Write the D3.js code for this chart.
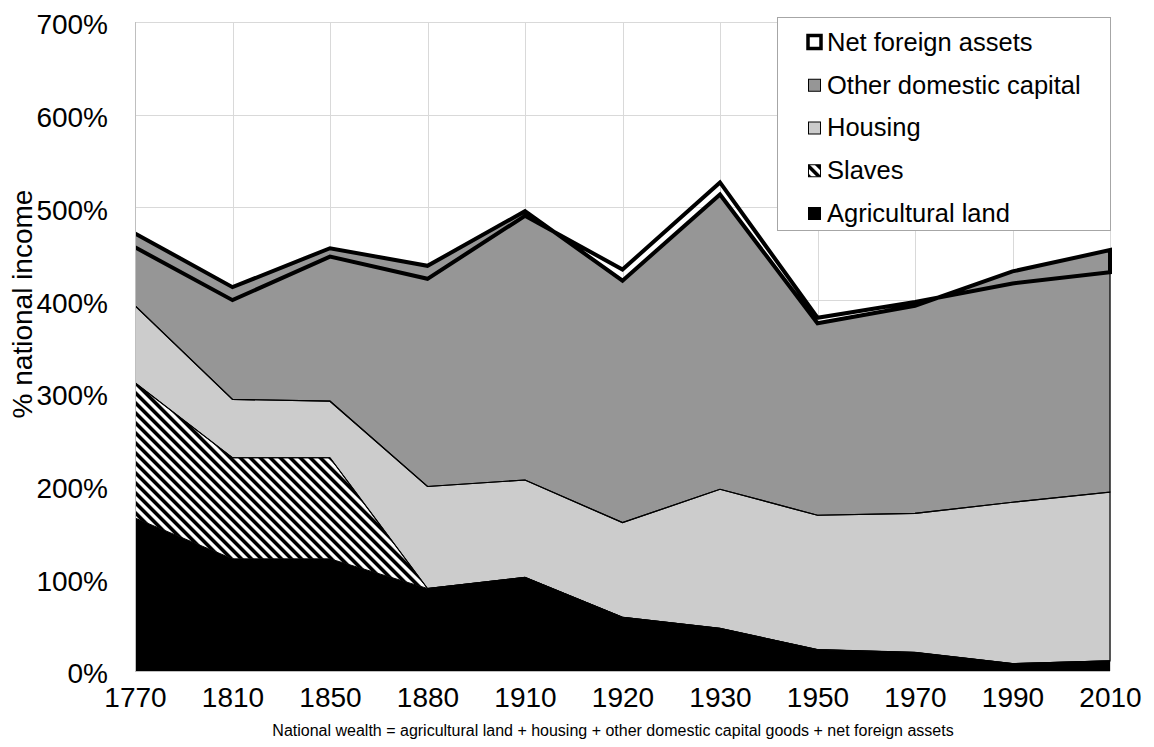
<!DOCTYPE html>
<html>
<head>
<meta charset="utf-8">
<script src="https://cdn.jsdelivr.net/npm/d3@7"></script>
<style>
  body { margin: 0; background: #fff; }
  svg { display: block; font-family: "Liberation Sans", Arial, sans-serif; }
</style>
</head>
<body>
<div id="chart"></div>
<script>
// Capital in the United States, 1770-2010 (% of national income)
const years = ['1770', '1810', '1850', '1880', '1910', '1920', '1930', '1950', '1970', '1990', '2010'];
const agriculturalLand = [165, 121, 121, 89, 101, 58, 46, 23, 20, 8, 11];
const slaves = [146, 109, 109, 0, 0, 0, 0, 0, 0, 0, 0];
const housing = [83, 63, 61, 110, 105, 102, 150, 145, 150, 174, 182];
const otherDomestic = [78, 121, 165, 238, 290, 261, 318, 207, 224, 249, 261];
const netForeign = [-15, -14, -9, -14, -5, 12, 13, 6, 4, -13, -24];

const yTicks = [0, 100, 200, 300, 400, 500, 600, 700];
const legendLabels = ['Net foreign assets', 'Other domestic capital', 'Housing', 'Slaves', 'Agricultural land'];
const caption = 'National wealth = agricultural land + housing + other domestic capital goods + net foreign assets';

const width = 1154, height = 747;
const plot = { left: 135, right: 1110, top: 22, bottom: 671 };

const svg = d3.select('#chart').append('svg')
    .attr('width', width)
    .attr('height', height);

// hatch for slaves
const defs = svg.append('defs');
const hatch = defs.append('pattern')
    .attr('id', 'hatch')
    .attr('patternUnits', 'userSpaceOnUse')
    .attr('width', 7.07)
    .attr('height', 7.07)
    .attr('patternTransform', 'rotate(-45)');
hatch.append('rect').attr('width', 7.07).attr('height', 7.07).attr('fill', '#fff');
hatch.append('rect').attr('width', 3.6).attr('height', 7.07).attr('fill', '#000');

defs.append('clipPath').attr('id', 'plotClip')
    .append('rect')
    .attr('x', plot.left).attr('y', plot.top - 10)
    .attr('width', plot.right - plot.left + 4)
    .attr('height', plot.bottom - plot.top + 10);

const x = d3.scalePoint().domain(years).range([plot.left, plot.right]);
const y = d3.scaleLinear().domain([0, 700]).range([plot.bottom, plot.top]);

// gridlines
const grid = svg.append('g').attr('stroke', '#d9d9d9').attr('stroke-width', 1);
grid.selectAll('line.h').data(yTicks.slice(1)).enter().append('line')
    .attr('x1', plot.left).attr('x2', plot.right)
    .attr('y1', d => Math.round(y(d)) + 0.5).attr('y2', d => Math.round(y(d)) + 0.5);
grid.selectAll('line.v').data(years.slice(1)).enter().append('line')
    .attr('x1', d => Math.round(x(d)) + 0.5).attr('x2', d => Math.round(x(d)) + 0.5)
    .attr('y1', plot.top).attr('y2', plot.bottom);

// stacked data
const table = years.map((yr, i) => ({
    year: yr,
    agri: agriculturalLand[i],
    slaves: slaves[i],
    housing: housing[i],
    domestic: otherDomestic[i],
    foreign: netForeign[i]
}));
const keys = ['agri', 'slaves', 'housing', 'domestic', 'foreign'];
const series = d3.stack().keys(keys).offset(d3.stackOffsetNone)(table);

const area = d3.area()
    .x(d => x(d.data.year))
    .y0(d => y(d[0]))
    .y1(d => y(d[1]));

// outline without the left edge: top left->right, right edge, bottom right->left
function outline(s) {
    const pts = s.map(d => [x(d.data.year), y(d[1])])
        .concat(s.slice().reverse().map(d => [x(d.data.year), y(d[0])]));
    return d3.line()(pts);
}

const styles = {
    agri: { fill: '#000', stroke: '#000', sw: 1 },
    slaves: { fill: 'url(#hatch)', stroke: '#000', sw: 1 },
    housing: { fill: '#cccccc', stroke: '#000', sw: 1.2 },
    domestic: { fill: '#969696', stroke: '#000', sw: 1.2 },
    foreign: { fill: 'none', stroke: '#000', sw: 4 }
};

const areas = svg.append('g').attr('clip-path', 'url(#plotClip)');
series.forEach(s => {
    const st = styles[s.key];
    if (st.fill !== 'none') {
        areas.append('path').attr('d', area(s)).attr('fill', st.fill);
    }
});
series.forEach(s => {
    const st = styles[s.key];
    if (s.key === 'agri') return;
    areas.append('path')
        .attr('d', outline(s))
        .attr('fill', 'none')
        .attr('stroke', st.stroke)
        .attr('stroke-width', st.sw)
        .attr('stroke-linejoin', 'miter');
});

// axis lines
svg.append('line')
    .attr('x1', plot.left + 0.5).attr('x2', plot.left + 0.5)
    .attr('y1', plot.top).attr('y2', plot.bottom + 1)
    .attr('stroke', '#bfbfbf');
svg.append('line')
    .attr('x1', plot.left).attr('x2', plot.right)
    .attr('y1', plot.bottom + 0.5).attr('y2', plot.bottom + 0.5)
    .attr('stroke', '#bfbfbf');

// y axis
const yAxis = svg.append('g')
    .attr('transform', `translate(${plot.left},3)`)
    .call(d3.axisLeft(y).tickValues(yTicks).tickSize(0).tickPadding(27).tickFormat(d => d + '%'));
yAxis.select('.domain').remove();
yAxis.selectAll('text').attr('font-size', 28).attr('fill', '#000')
    .attr('font-family', '"Liberation Sans", Arial, sans-serif');

// x axis
const xAxis = svg.append('g')
    .attr('transform', `translate(0,${plot.bottom})`)
    .call(d3.axisBottom(x).tickSize(0).tickPadding(16));
xAxis.select('.domain').remove();
xAxis.selectAll('text').attr('font-size', 28).attr('fill', '#000')
    .attr('font-family', '"Liberation Sans", Arial, sans-serif');

// y title
svg.append('text')
    .attr('transform', 'translate(32,304) rotate(-90)')
    .attr('text-anchor', 'middle')
    .attr('font-size', 28)
    .text('% national income');

// caption
svg.append('text')
    .attr('x', 613)
    .attr('y', 736)
    .attr('text-anchor', 'middle')
    .attr('font-size', 16)
    .text(caption);

// legend
const legend = svg.append('g');
legend.append('rect')
    .attr('x', 777.5).attr('y', 17.5)
    .attr('width', 333).attr('height', 213)
    .attr('fill', '#fff').attr('stroke', '#a6a6a6');

const legendKeys = ['foreign', 'domestic', 'housing', 'slaves', 'agri'];
const rowY = d3.scalePoint().domain(legendKeys).range([42, 213]);
legendKeys.forEach((k, i) => {
    const cy = rowY(k);
    const st = styles[k];
    if (k === 'foreign') {
        legend.append('rect')
            .attr('x', 808).attr('y', cy - 6.5).attr('width', 13).attr('height', 13)
            .attr('fill', '#fff').attr('stroke', '#000').attr('stroke-width', 3.5);
    } else {
        legend.append('rect')
            .attr('x', 808.5).attr('y', cy - 5.5).attr('width', 12).attr('height', 12)
            .attr('fill', k === 'slaves' ? 'url(#hatch)' : st.fill)
            .attr('stroke', '#000').attr('stroke-width', 1);
    }
    legend.append('text')
        .attr('x', 827)
        .attr('y', cy)
        .attr('dy', '0.35em')
        .attr('font-size', 25.5)
        .text(legendLabels[i]);
});
</script>
</body>
</html>
